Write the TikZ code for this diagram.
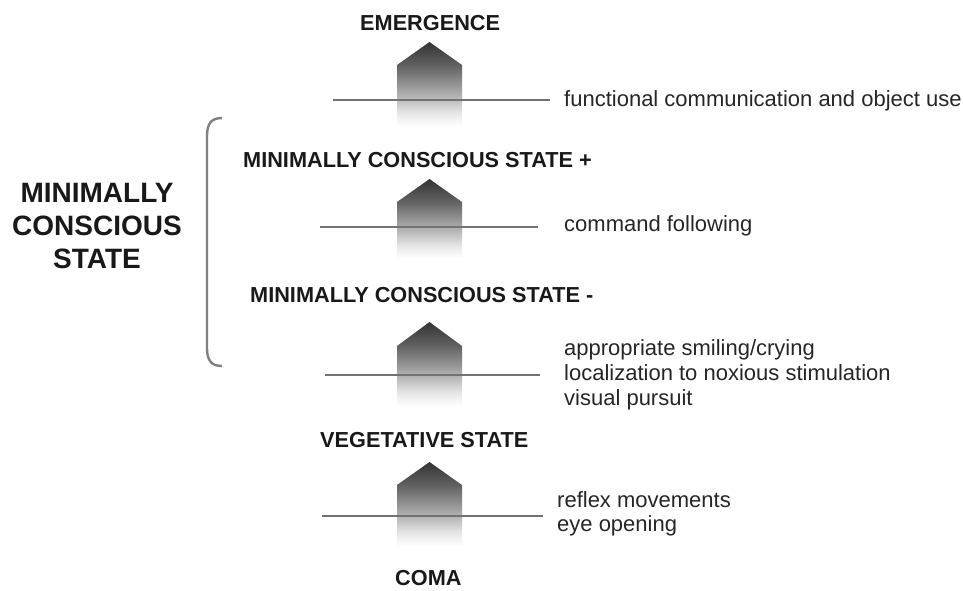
\documentclass[tikz,border=0pt]{standalone}
\usepackage{fontspec}
\setmainfont{Liberation Sans}
\pgfdeclareverticalshading{arrowfade}{100bp}{color(0bp)=(white); color(25bp)=(white); color(33bp)=(black!10); color(42bp)=(black!28); color(61bp)=(black!62); color(75bp)=(black!80); color(100bp)=(black!80)}
\tikzset{
  state/.style={font=\fontsize{21.7}{25}\selectfont\bfseries, anchor=base west, inner sep=0pt, text=black!90},
  desc/.style={font=\fontsize{22}{25.5}\selectfont, anchor=base west, inner sep=0pt, text=black!85, align=left},
  level/.style={draw=black!55, line width=1.8pt},
  arrowbody/.style={shading=arrowfade},
  bracket/.style={draw=black!50, line width=2.4pt}
}
\begin{document}
\begin{tikzpicture}[x=1pt,y=-1pt]
\useasboundingbox (0,0) rectangle (963,590);
% arrows
\shade[arrowbody] (397,126) -- (397,65) -- (429.5,42) -- (462,65) -- (462,126) -- cycle;
\shade[arrowbody] (397,258) -- (397,202) -- (429.5,179) -- (462,202) -- (462,258) -- cycle;
\shade[arrowbody] (397,406) -- (397,346) -- (429.5,322) -- (462,346) -- (462,406) -- cycle;
\shade[arrowbody] (397,546) -- (397,485) -- (429.5,462) -- (462,485) -- (462,546) -- cycle;
% level lines
\coordinate (l1a) at (333,100); \coordinate (l1b) at (550,100);
\coordinate (l2a) at (320,227); \coordinate (l2b) at (538,227);
\coordinate (l3a) at (325,375); \coordinate (l3b) at (540,375);
\coordinate (l4a) at (322,516); \coordinate (l4b) at (543,516);
\draw[level] (l1a) -- (l1b);
\draw[level] (l2a) -- (l2b);
\draw[level] (l3a) -- (l3b);
\draw[level] (l4a) -- (l4b);
% state labels
\node[state] (emg) at (360,30) {EMERGENCE};
\node[state] (mcsp) at (243,167) {MINIMALLY CONSCIOUS STATE +};
\node[state] (mcsm) at (250,302) {MINIMALLY CONSCIOUS STATE -};
\node[state] (vs) at (320,447) {VEGETATIVE STATE};
\node[state] (coma) at (395,585) {COMA};
% descriptions
\node[desc] (d1) at (564,106) {functional communication and object use};
\node[desc] (d2) at (564,231) {command following};
\node[desc] (d3a) at (564,355) {appropriate smiling/crying};
\node[desc] (d3b) at (564,380) {localization to noxious stimulation};
\node[desc] (d3c) at (564,405) {visual pursuit};
\node[desc] (d4a) at (557,507) {reflex movements};
\node[desc] (d4b) at (557,531) {eye opening};
% bracket and left label
\draw[bracket] (222,118) .. controls (211,118) and (207,124) .. (207,136) -- (207,348) .. controls (207,360) and (211,366) .. (222,366);
\node[font=\fontsize{28}{33}\selectfont\bfseries, align=center, inner sep=0pt, anchor=north, text=black!90] (mcs) at (97,183) {MINIMALLY\\CONSCIOUS\\STATE};
\end{tikzpicture}
\end{document}
